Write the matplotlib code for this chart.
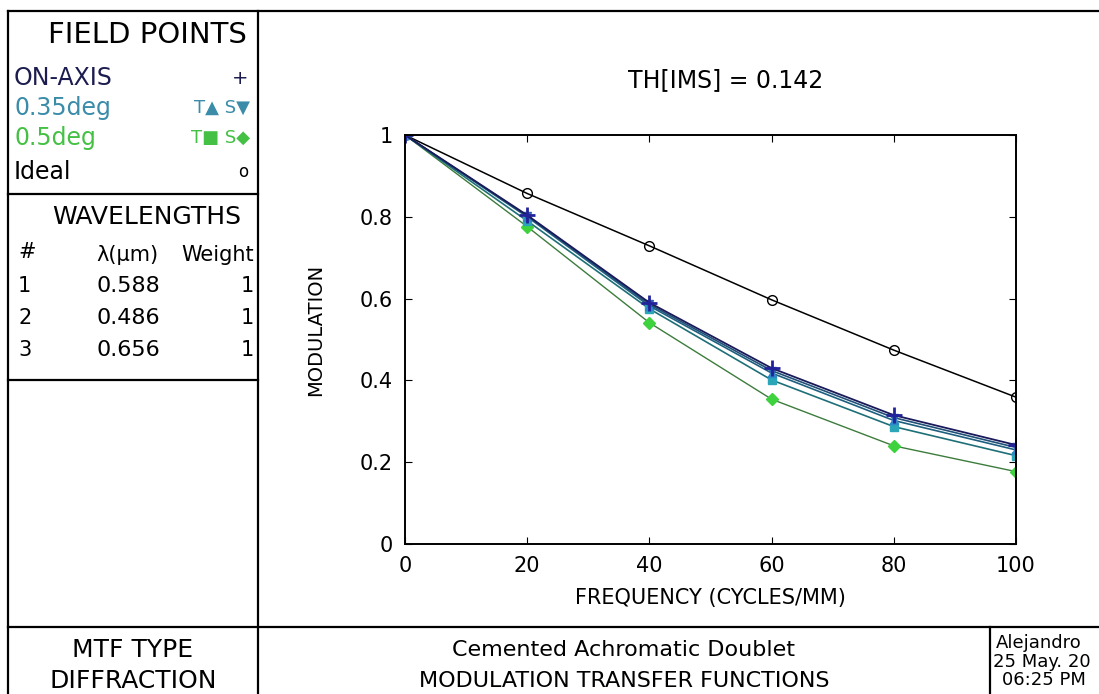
import matplotlib
matplotlib.use('Agg')
import matplotlib.pyplot as plt

# MTF values
freq = [0, 20, 40, 60, 80, 100]
on_axis = [1.0, 0.804, 0.590, 0.430, 0.315, 0.242]
f035_t = [1.0, 0.800, 0.582, 0.418, 0.302, 0.230]
f035_s = [1.0, 0.802, 0.586, 0.424, 0.309, 0.236]
f05_t = [1.0, 0.790, 0.575, 0.401, 0.287, 0.216]
f05_s = [1.0, 0.776, 0.541, 0.354, 0.240, 0.177]
ideal = [1.0, 0.857, 0.729, 0.597, 0.474, 0.359]

xticks = [0, 20, 40, 60, 80, 100]
yticks = [0, 0.2, 0.4, 0.6, 0.8, 1]
ytick_labels = ["0", "0.2", "0.4", "0.6", "0.8", "1"]

wl_num = ["1", "2", "3"]
wl_val = ["0.588", "0.486", "0.656"]
wl_weight = ["1", "1", "1"]

W, H = 1099, 694
fig = plt.figure(figsize=(W / 100, H / 100), dpi=100)
fig.patch.set_facecolor("white")
plt.rcParams['font.family'] = ['DejaVu Sans']

# overlay in pixel coords for the frame boxes and panel text
ov = fig.add_axes([0, 0, 1, 1])
ov.set_xlim(0, W)
ov.set_ylim(H, 0)
ov.axis("off")

lw = 1.6
def hline(y, x0, x1):
    ov.plot([x0, x1], [y, y], color="black", lw=lw)
def vline(x, y0, y1):
    ov.plot([x, x], [y0, y1], color="black", lw=lw)

hline(11, 8, W)
vline(8, 11, H)
vline(258, 11, H)
hline(194, 8, 258)
hline(380, 8, 258)
hline(627, 8, W)
vline(990, 627, H)

txt = dict(color="black", va="center")
ov.text(147, 35, "FIELD POINTS", ha="center", fontsize=21, **txt)
ov.text(14, 78, "ON-AXIS", ha="left", fontsize=17, color="#1c1c50", va="center")
ov.text(248, 78, "+", ha="right", fontsize=14, color="#1c1c50", va="center")
ov.text(14, 108, "0.35deg", ha="left", fontsize=17, color="#3a8ca8", va="center")
ov.text(250, 108, "T▲ S▼", ha="right", fontsize=13, color="#3a8ca8", va="center")
ov.text(14, 138, "0.5deg", ha="left", fontsize=17, color="#44c044", va="center")
ov.text(250, 138, "T■ S◆", ha="right", fontsize=13, color="#44c044", va="center")
ov.text(14, 172, "Ideal", ha="left", fontsize=17, **txt)
ov.text(248, 172, "o", ha="right", fontsize=12, **txt)

ov.text(147, 217, "WAVELENGTHS", ha="center", fontsize=18, **txt)
ov.text(18, 252, "#", ha="left", fontsize=15, **txt)
ov.text(127, 255, "λ(μm)", ha="center", fontsize=15, **txt)
ov.text(254, 255, "Weight", ha="right", fontsize=15, **txt)
for i in range(3):
    yy = 286 + i * 32
    ov.text(18, yy, wl_num[i], ha="left", fontsize=15, **txt)
    ov.text(96, yy, wl_val[i], ha="left", fontsize=16, **txt)
    ov.text(254, yy, wl_weight[i], ha="right", fontsize=15, **txt)

ov.text(133, 650, "MTF TYPE", ha="center", fontsize=18, **txt)
ov.text(133, 681, "DIFFRACTION", ha="center", fontsize=18, **txt)
ov.text(624, 650, "Cemented Achromatic Doublet", ha="center", fontsize=16, **txt)
ov.text(624, 681, "MODULATION TRANSFER FUNCTIONS", ha="center", fontsize=16, **txt)
ov.text(996, 643, "Alejandro", ha="left", fontsize=13, **txt)
ov.text(993, 662, "25 May. 20", ha="left", fontsize=13, **txt)
ov.text(1002, 680, "06:25 PM", ha="left", fontsize=13, **txt)

ov.text(726, 80, "TH[IMS] = 0.142", ha="center", fontsize=17, **txt)

# main MTF plot
x0, x1, ytop, ybot = 405, 1016, 135, 544
ax = fig.add_axes([x0 / W, 1 - ybot / H, (x1 - x0) / W, (ybot - ytop) / H])
ax.set_xlim(0, 100)
ax.set_ylim(0, 1)
for s in ax.spines.values():
    s.set_linewidth(1.4)

ax.plot(freq, ideal, color="black", lw=1.1, marker="o", ms=7, mfc="none", mec="black", mew=1.0)
ax.plot(freq, f05_s, color="#3c7c3c", lw=1.0, marker="D", ms=6, mfc="#3ed23e", mec="#3ed23e")
ax.plot(freq, f05_t, color="#1f6f78", lw=1.2, marker="s", ms=6, mfc="#2aa6b8", mec="#2aa6b8")
ax.plot(freq, f035_t, color="#1e5f80", lw=1.2, marker="^", ms=6, mfc="#2f86c8", mec="#2f86c8")
ax.plot(freq, f035_s, color="#205078", lw=1.2, marker="v", ms=6, mfc="#3060b0", mec="#3060b0")
ax.plot(freq, on_axis, color="#1a1a5a", lw=1.3, marker="+", ms=11, mew=2, mec="#22229a")

ax.set_xticks(xticks)
ax.set_yticks(yticks)
ax.set_yticklabels(ytick_labels)
ax.tick_params(direction="in", length=5, top=True, right=True, labelsize=15, pad=9)
ax.set_xlabel("FREQUENCY (CYCLES/MM)", fontsize=15, labelpad=8)
ax.set_ylabel("MODULATION", fontsize=14)
ax.yaxis.set_label_coords(-0.13, 0.523)

fig.savefig("out.png", dpi=100)
